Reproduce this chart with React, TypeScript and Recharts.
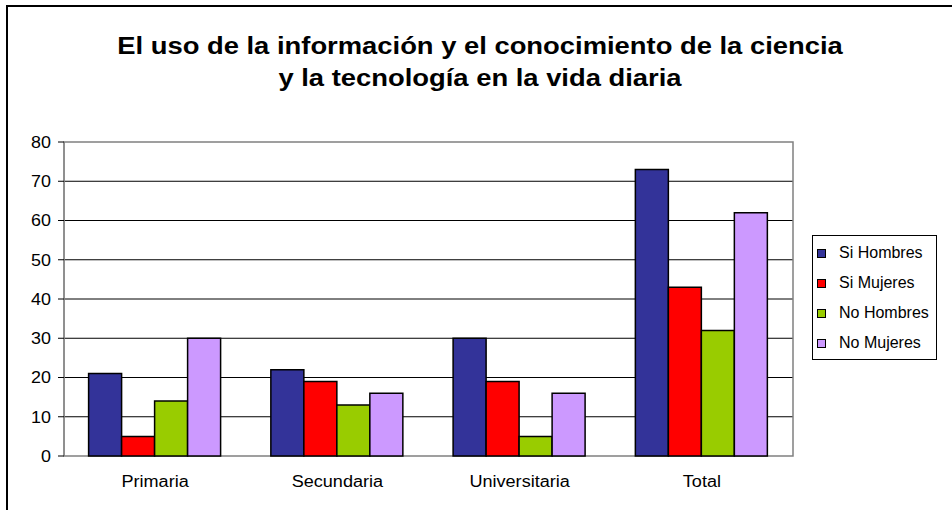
import React from 'react';
import { BarChart, Bar, XAxis, YAxis, CartesianGrid, ReferenceArea } from 'recharts';

const categories = ['Primaria', 'Secundaria', 'Universitaria', 'Total'];
const siHombres = [21, 22, 30, 73];
const siMujeres = [5, 19, 19, 43];
const noHombres = [14, 13, 5, 32];
const noMujeres = [30, 16, 16, 62];
const yTicks = [0, 10, 20, 30, 40, 50, 60, 70, 80];
const gridValues = [10, 20, 30, 40, 50, 60, 70];
const boundTicks = [0, 1, 2, 3, 4];

const series = [
  { key: 'siHombres', name: 'Si Hombres', color: '#333399' },
  { key: 'siMujeres', name: 'Si Mujeres', color: '#FF0000' },
  { key: 'noHombres', name: 'No Hombres', color: '#99CC00' },
  { key: 'noMujeres', name: 'No Mujeres', color: '#CC99FF' },
];

const data = categories.map((name, i) => ({
  name,
  bound: i,
  siHombres: siHombres[i],
  siMujeres: siMujeres[i],
  noHombres: noHombres[i],
  noMujeres: noMujeres[i],
}));

const FONT = '"Liberation Sans", Arial, sans-serif';

// el original está algo estirado en horizontal
const XTick = ({ x, y, payload }: any) => (
  <g transform={`translate(${x},${y})`}>
    <text
      transform="scale(1.13,1)"
      textAnchor="middle"
      y={31}
      fill="#000"
      fontSize={16}
      fontFamily={FONT}
    >
      {payload.value}
    </text>
  </g>
);

const YTick = ({ x, y, payload }: any) => (
  <g transform={`translate(${x},${y})`}>
    <text
      transform="scale(1.12,1)"
      textAnchor="end"
      dy="0.36em"
      fill="#000"
      fontSize={16}
      fontFamily={FONT}
    >
      {payload.value}
    </text>
  </g>
);

const LegendBox = () => (
  <div
    style={{
      position: 'absolute',
      left: 812,
      top: 235,
      width: 125,
      height: 125,
      border: '1px solid #000',
      background: '#fff',
      boxSizing: 'border-box',
      padding: '2px 0 0 4px',
      fontFamily: FONT,
      fontSize: 16,
      color: '#000',
    }}
  >
    {series.map((s) => (
      <div key={s.key} style={{ display: 'flex', alignItems: 'center', height: 30 }}>
        <span
          style={{
            display: 'inline-block',
            width: 7,
            height: 7,
            background: s.color,
            border: '1px solid #000',
            marginRight: 13,
          }}
        />
        <span>{s.name}</span>
      </div>
    ))}
  </div>
);

export default function App() {
  return (
    <div
      style={{
        position: 'fixed',
        left: 0,
        top: 0,
        width: 952,
        height: 510,
        overflow: 'hidden',
        background: '#fff',
        fontFamily: FONT,
      }}
    >
      <div
        style={{
          position: 'absolute',
          left: 6,
          top: 5,
          width: 1000,
          height: 600,
          border: '2px solid #000',
        }}
      />
      <div
        style={{
          position: 'absolute',
          left: 8,
          top: 30,
          width: 944,
          textAlign: 'center',
          fontWeight: 'bold',
          fontSize: 23,
          lineHeight: '32px',
          color: '#000',
          transform: 'scaleX(1.19)',
          transformOrigin: '472px 0',
        }}
      >
        El uso de la información y el conocimiento de la ciencia
        <br />
        y la tecnología en la vida diaria
      </div>
      <div style={{ position: 'absolute', left: 0, top: 0 }}>
        <BarChart
          width={952}
          height={510}
          data={data}
          margin={{ top: 142, right: 159, bottom: 24, left: 24 }}
          barCategoryGap="13.5%"
          barGap={0}
        >
          <CartesianGrid
            vertical={false}
            horizontalValues={gridValues}
            stroke="#000"
            yAxisId="left"
            xAxisId="cat"
          />
          <XAxis
            xAxisId="bounds"
            dataKey="bound"
            type="number"
            domain={[0, 4]}
            allowDataOverflow
            ticks={boundTicks}
            height={0}
            tickFormatter={() => ''}
            tickSize={6}
            axisLine={{ stroke: '#808080' }}
            tickLine={{ stroke: '#808080' }}
          />
          <XAxis
            xAxisId="cat"
            dataKey="name"
            height={30}
            axisLine={false}
            tickLine={false}
            tickSize={0}
            tickMargin={0}
            tick={<XTick />}
          />
          <YAxis
            yAxisId="left"
            domain={[0, 80]}
            ticks={yTicks}
            width={40}
            tickSize={6}
            tickMargin={7}
            axisLine={{ stroke: '#808080' }}
            tickLine={{ stroke: '#000' }}
            tick={<YTick />}
          />
          {/* marco gris del área de trazado */}
          <ReferenceArea
            xAxisId="cat"
            yAxisId="left"
            x1="Primaria"
            x2="Total"
            y1={0}
            y2={80}
            ifOverflow="visible"
            fill="none"
            fillOpacity={0}
            stroke="#808080"
            strokeOpacity={1}
            strokeWidth={1.5}
          />
          {series.map((s) => (
            <Bar
              key={s.key}
              dataKey={s.key}
              name={s.name}
              fill={s.color}
              stroke="#000"
              strokeWidth={1.5}
              xAxisId="cat"
              yAxisId="left"
              isAnimationActive={false}
            />
          ))}
        </BarChart>
      </div>
      <LegendBox />
    </div>
  );
}
